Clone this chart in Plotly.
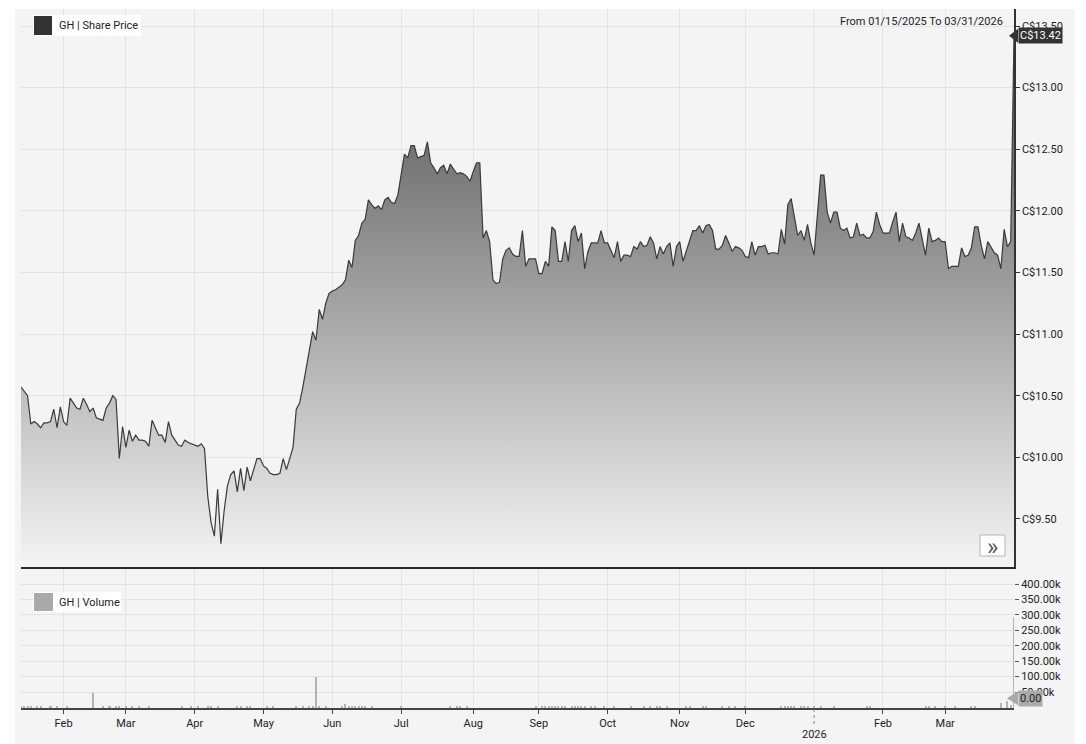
import plotly.graph_objects as go
import pandas as pd

# ---------------- data ----------------
START_DATE = "2025-01-15"
END_DATE = "2026-03-31"
HOLIDAYS = ["2025-02-17", "2025-04-18", "2025-05-19", "2025-07-01", "2025-08-04",
            "2025-09-01", "2025-10-13", "2025-12-25", "2025-12-26", "2026-01-01",
            "2026-02-16"]

PRICE = [
    10.57, 10.53, 10.50, 10.27, 10.29, 10.27, 10.24, 10.28, 10.28, 10.29,
    10.39, 10.24, 10.41, 10.29, 10.26, 10.48, 10.44, 10.40, 10.39, 10.48,
    10.43, 10.37, 10.40, 10.32, 10.31, 10.30, 10.40, 10.44, 10.50, 10.47,
    9.99, 10.25, 10.08, 10.22, 10.13, 10.18, 10.14, 10.14, 10.13, 10.09,
    10.30, 10.24, 10.18, 10.18, 10.12, 10.29, 10.18, 10.14, 10.10, 10.09,
    10.14, 10.12, 10.11, 10.10, 10.09, 10.11, 10.07, 9.68, 9.47, 9.36,
    9.74, 9.30, 9.57, 9.77, 9.86, 9.89, 9.72, 9.91, 9.73, 9.92,
    9.81, 9.90, 9.99, 9.99, 9.93, 9.91, 9.87, 9.86, 9.86, 9.87,
    9.99, 9.90, 9.99, 10.08, 10.39, 10.44, 10.57, 10.71, 10.85, 11.02,
    10.95, 11.20, 11.12, 11.25, 11.33, 11.35, 11.36, 11.38, 11.40, 11.44,
    11.60, 11.54, 11.76, 11.80, 11.90, 11.93, 12.09, 12.05, 12.02, 12.04,
    12.01, 12.09, 12.11, 12.07, 12.06, 12.13, 12.28, 12.46, 12.43, 12.53,
    12.53, 12.43, 12.44, 12.45, 12.56, 12.39, 12.35, 12.30, 12.35, 12.37,
    12.30, 12.38, 12.34, 12.30, 12.31, 12.30, 12.28, 12.24, 12.32, 12.39,
    12.39, 11.78, 11.84, 11.75, 11.44, 11.41, 11.42, 11.61, 11.68, 11.70,
    11.65, 11.63, 11.63, 11.84, 11.55, 11.61, 11.61, 11.61, 11.49, 11.49,
    11.59, 11.55, 11.87, 11.84, 11.59, 11.59, 11.75, 11.59, 11.84, 11.88,
    11.75, 11.82, 11.53, 11.67, 11.74, 11.74, 11.74, 11.84, 11.74, 11.74,
    11.68, 11.62, 11.75, 11.59, 11.64, 11.64, 11.63, 11.71, 11.69, 11.75,
    11.71, 11.72, 11.79, 11.74, 11.61, 11.71, 11.65, 11.71, 11.74, 11.55,
    11.71, 11.75, 11.59, 11.67, 11.75, 11.84, 11.84, 11.88, 11.82, 11.88,
    11.89, 11.84, 11.69, 11.69, 11.72, 11.80, 11.74, 11.67, 11.71, 11.70,
    11.68, 11.63, 11.62, 11.75, 11.64, 11.71, 11.71, 11.72, 11.65, 11.66,
    11.66, 11.65, 11.85, 11.73, 12.05, 12.10, 11.95, 11.80, 11.84, 11.76,
    11.89, 11.74, 11.64, 11.99, 12.29, 12.29, 11.99, 11.90, 11.99, 11.99,
    11.86, 11.84, 11.86, 11.78, 11.79, 11.90, 11.80, 11.81, 11.78, 11.78,
    11.83, 11.99, 11.89, 11.82, 11.82, 11.82, 11.91, 11.99, 11.75, 11.90,
    11.79, 11.78, 11.76, 11.82, 11.90, 11.77, 11.64, 11.86, 11.75, 11.76,
    11.78, 11.75, 11.75, 11.53, 11.55, 11.55, 11.55, 11.70, 11.63, 11.64,
    11.70, 11.87, 11.87, 11.72, 11.61, 11.75, 11.70, 11.66, 11.64, 11.53,
    11.85, 11.71, 11.75, 13.42,
]

# daily volume, thousands of shares
VOLUME_K = (
    [4, 3, 2, 3, 0, 2, 3, 0, 0, 2, 0, 2, 0]                                   # Jan 25
    + [0, 2, 0, 0, 0, 0, 0, 0, 0, 48, 0, 0, 2, 0, 3, 0, 2, 3, 0]              # Feb
    + [2, 0, 3, 0, 2, 0, 0, 2, 0, 0, 0, 0, 0, 0, 0, 0, 0, 3, 0, 0, 4]         # Mar
    + [0, 3, 0, 0, 4, 3, 0, 3, 0, 0, 0, 0, 0, 2, 3, 0, 3, 2, 0, 0, 0]         # Apr
    + [0, 3, 0, 2, 0, 0, 0, 0, 0, 0, 3, 0, 3, 0, 3, 4, 100, 3, 0, 2, 0]       # May
    + [0, 0, 0, 3, 12, 6, 4, 3, 2, 3, 2, 0, 2, 0, 0, 0, 0, 0, 0, 0, 0]        # Jun
    + [2, 0, 0, 0, 0, 0, 0, 0, 0, 0, 0, 0, 0, 0, 0, 2, 0, 3, 2, 0, 2, 0]      # Jul
    + [0, 0, 0, 0, 0, 0, 0, 0, 0, 0, 0, 0, 0, 0, 0, 0, 0, 0, 0, 2]            # Aug
    + [0, 2, 3, 4, 3, 6, 3, 2, 3, 0, 3, 2, 3, 3, 2, 0, 3, 2, 0, 0, 3]         # Sep
    + [0, 0, 2, 0, 0, 0, 0, 2, 0, 0, 0, 2, 0, 3, 0, 3, 4, 0, 2, 0, 0, 0]      # Oct
    + [0, 0, 4, 2, 0, 0, 0, 3, 3, 0, 0, 0, 0, 2, 0, 3, 0, 2, 0, 0]            # Nov
    + [2, 0, 0, 0, 0, 0, 0, 0, 0, 0, 0, 2, 3, 2, 3, 3, 0, 3, 3, 2, 0]         # Dec
    + [4, 0, 2, 0, 0, 0, 2, 0, 0, 0, 0, 0, 0, 0, 0, 0, 2, 3, 0, 0, 0]         # Jan 26
    + [0, 0, 0, 0, 0, 0, 0, 0, 0, 0, 0, 0, 0, 2, 3, 0, 3, 0, 0]               # Feb
    + [3, 0, 0, 2, 0, 0, 0, 0, 2, 3, 0, 0, 0, 0, 0, 0, 0, 15, 0, 22, 8, 292]  # Mar
)

PRICE_TICKS = [9.5, 10.0, 10.5, 11.0, 11.5, 12.0, 12.5, 13.0, 13.5]
VOL_TICKS_K = [50, 100, 150, 200, 250, 300, 350, 400]
MONTH_ABBR = ["Jan", "Feb", "Mar", "Apr", "May", "Jun", "Jul", "Aug", "Sep",
              "Oct", "Nov", "Dec"]
LAST_PRICE_TEXT = "C$13.42"
LAST_VOLUME_TEXT = "0.00"
RANGE_TEXT = "From 01/15/2025 To 03/31/2026"

# ---------------- derived ----------------
dates = [d for d in pd.bdate_range(START_DATE, END_DATE)
         if d.strftime("%Y-%m-%d") not in HOLIDAYS]
idx = list(range(len(PRICE)))
date_txt = [d.strftime("%m/%d/%Y") for d in dates[:len(PRICE)]]
volume = [v * 1000 for v in VOLUME_K]

month_first = []
seen = set()
for i, d in enumerate(dates):
    key = (d.year, d.month)
    if key not in seen:
        seen.add(key)
        if i > 0:
            month_first.append((i, d))
tick_vals = [i for i, d in month_first if d.month != 1]
tick_text = [MONTH_ABBR[d.month - 1] for i, d in month_first if d.month != 1]
year_marks = [(i, str(d.year)) for i, d in month_first if d.month == 1]

# the page body adds an 8 px margin; the figure is sized to fill the window
OFF = 8
W, H = 1086 - OFF, 744 - OFF
ML, MR, MT, MB = 13, 72, 1, 36
PW = W - ML - MR
PH = H - MT - MB


def xp(px):  # window pixel -> paper x
    return (px - OFF - ML) / PW


def yp(py):  # window pixel -> paper y
    return (H - MB - (py - OFF)) / PH


FONT = "Roboto, Arial, sans-serif"
GRID = "#e3e3e3"
BG = "#f4f4f4"

fig = go.Figure()

fig.add_trace(go.Scatter(
    x=idx, y=PRICE, customdata=date_txt, mode="lines",
    line=dict(color="#3a3a3a", width=1.2),
    fill="tozeroy",
    fillgradient=dict(type="vertical",
                      colorscale=[[0, "#f4f4f4"], [1, "#6c6c6c"]],
                      start=9.11, stop=12.7),
    hovertemplate="%{customdata}<br>C$%{y:.2f}<extra></extra>",
    xaxis="x", yaxis="y", showlegend=False,
))

fig.add_trace(go.Bar(
    x=idx, y=volume, customdata=date_txt, width=0.62,
    marker=dict(color="#b3b3b3", line=dict(width=0)),
    hovertemplate="%{customdata}<br>%{y:,}<extra></extra>",
    xaxis="x2", yaxis="y2", showlegend=False,
))

price_dom = [yp(567), 1.0]
vol_dom = [0.0, yp(569)]

fig.update_layout(
    width=W, height=H,
    margin=dict(l=ML, r=MR, t=MT, b=MB),
    paper_bgcolor="white", plot_bgcolor="rgba(0,0,0,0)",
    font=dict(family=FONT, size=11, color="#222"),
    bargap=0,
    xaxis=dict(domain=[0, 1], anchor="y", range=[0, len(PRICE) - 1],
               tickvals=tick_vals, showticklabels=False, ticks="",
               showgrid=True, gridcolor=GRID, gridwidth=1, zeroline=False,
               showline=True, linecolor="#2b2b2b", linewidth=2),
    yaxis=dict(domain=price_dom, anchor="x", side="right",
               range=[9.11, 13.638],
               tickvals=PRICE_TICKS,
               ticktext=["C$%.2f" % v for v in PRICE_TICKS],
               ticks="outside", ticklen=4, tickcolor="#333", tickwidth=1,
               showgrid=True, gridcolor=GRID, zeroline=False,
               showline=True, linecolor="#333", linewidth=1.5,
               tickfont=dict(size=11, color="#222")),
    xaxis2=dict(domain=[0, 1], anchor="y2", matches="x",
                range=[0, len(PRICE) - 1],
                tickvals=tick_vals, ticktext=tick_text,
                ticks="outside", ticklen=4, tickcolor="#444",
                showgrid=True, gridcolor=GRID, zeroline=False,
                showline=True, linecolor="#444", linewidth=1.5,
                tickfont=dict(size=11, color="#222")),
    yaxis2=dict(domain=vol_dom, anchor="x2", side="right",
                range=[-1600, 448600],
                tickvals=[v * 1000 for v in VOL_TICKS_K],
                ticktext=["%.2fk" % v for v in VOL_TICKS_K],
                ticks="outside", ticklen=4, tickcolor="#555",
                showgrid=True, gridcolor=GRID, zeroline=False,
                showline=False,
                tickfont=dict(size=11, color="#222")),
    hovermode="x",
)

shapes = [
    # grey card behind everything
    dict(type="rect", xref="paper", yref="paper", layer="below",
         x0=xp(15), x1=xp(1075), y0=yp(745), y1=yp(9),
         fillcolor=BG, line=dict(width=0)),
]
for i, _ in year_marks:
    # gridlines at the year boundary
    shapes.append(dict(type="line", xref="x", yref="y domain", layer="below",
                       x0=i, x1=i, y0=0, y1=1, line=dict(color=GRID, width=1)))
    shapes.append(dict(type="line", xref="x2", yref="y2 domain", layer="below",
                       x0=i, x1=i, y0=0, y1=1, line=dict(color=GRID, width=1)))
    # dotted year tick
    shapes.append(dict(type="line", xref="x2", yref="paper",
                       x0=i, x1=i, y0=yp(709), y1=yp(727),
                       line=dict(color="#888", width=1, dash="dot")))

# legend chips
shapes += [
    dict(type="rect", xref="paper", yref="paper",
         x0=xp(33), x1=xp(141), y0=yp(36), y1=yp(15),
         fillcolor="white", line=dict(width=0)),
    dict(type="rect", xref="paper", yref="paper",
         x0=xp(34), x1=xp(52), y0=yp(35), y1=yp(16),
         fillcolor="#333333", line=dict(width=0)),
    dict(type="rect", xref="paper", yref="paper",
         x0=xp(33), x1=xp(121), y0=yp(612), y1=yp(592),
         fillcolor="white", line=dict(width=0)),
    dict(type="rect", xref="paper", yref="paper",
         x0=xp(34), x1=xp(53), y0=yp(611), y1=yp(593),
         fillcolor="#aaaaaa", line=dict(width=0)),
    # >> button
    dict(type="rect", xref="paper", yref="paper",
         x0=xp(980), x1=xp(1005), y0=yp(556), y1=yp(535),
         fillcolor="white", line=dict(color="#b5b5b5", width=1)),
]

# last price tag arrow (price axis units)
last_p = PRICE[-1]
dp = 7 / 123.14
shapes.append(dict(type="path", xref="paper", yref="y",
                   path="M %f,%f L %f,%f L %f,%f Z" % (
                       xp(1009), last_p, xp(1018), last_p + dp,
                       xp(1018), last_p - dp),
                   fillcolor="#333333", line=dict(width=0)))
# volume tag arrow
vol_tag_y = 30000
dv = 7 / 15.44 * 50000
shapes.append(dict(type="path", xref="paper", yref="y2",
                   path="M %f,%f L %f,%f L %f,%f Z" % (
                       xp(1007), vol_tag_y, xp(1018), vol_tag_y + dv,
                       xp(1018), vol_tag_y - dv),
                   fillcolor="#aaaaaa", line=dict(width=0)))

annotations = [
    dict(text="GH | Share Price", xref="paper", yref="paper",
         x=xp(57), y=yp(25.5), xanchor="left", yanchor="middle",
         showarrow=False, font=dict(size=11, color="#222")),
    dict(text="GH | Volume", xref="paper", yref="paper",
         x=xp(57), y=yp(602), xanchor="left", yanchor="middle",
         showarrow=False, font=dict(size=11, color="#222")),
    dict(text=RANGE_TEXT, xref="paper", yref="paper",
         x=xp(1005), y=yp(21), xanchor="right", yanchor="middle",
         showarrow=False, font=dict(size=11, color="#222")),
    dict(text="»", xref="paper", yref="paper",
         x=xp(992.5), y=yp(546.5), xanchor="center", yanchor="middle",
         showarrow=False, font=dict(size=24, color="#555")),
    dict(text=LAST_PRICE_TEXT, xref="paper", yref="y",
         x=xp(1018), y=last_p, xanchor="left", yanchor="middle",
         showarrow=False, bgcolor="#333333", borderpad=1,
         font=dict(size=11, color="white")),
    dict(text=LAST_VOLUME_TEXT, xref="paper", yref="y2",
         x=xp(1018), y=vol_tag_y, xanchor="left", yanchor="middle",
         showarrow=False, bgcolor="#aaaaaa", borderpad=1,
         font=dict(size=11, color="#222")),
]
for i, label in year_marks:
    annotations.append(dict(text=label, xref="x2", yref="paper",
                            x=i, y=yp(734), xanchor="center",
                            yanchor="middle", showarrow=False,
                            font=dict(size=11, color="#222")))

fig.update_layout(shapes=shapes, annotations=annotations)

fig.write_html("out.html")
